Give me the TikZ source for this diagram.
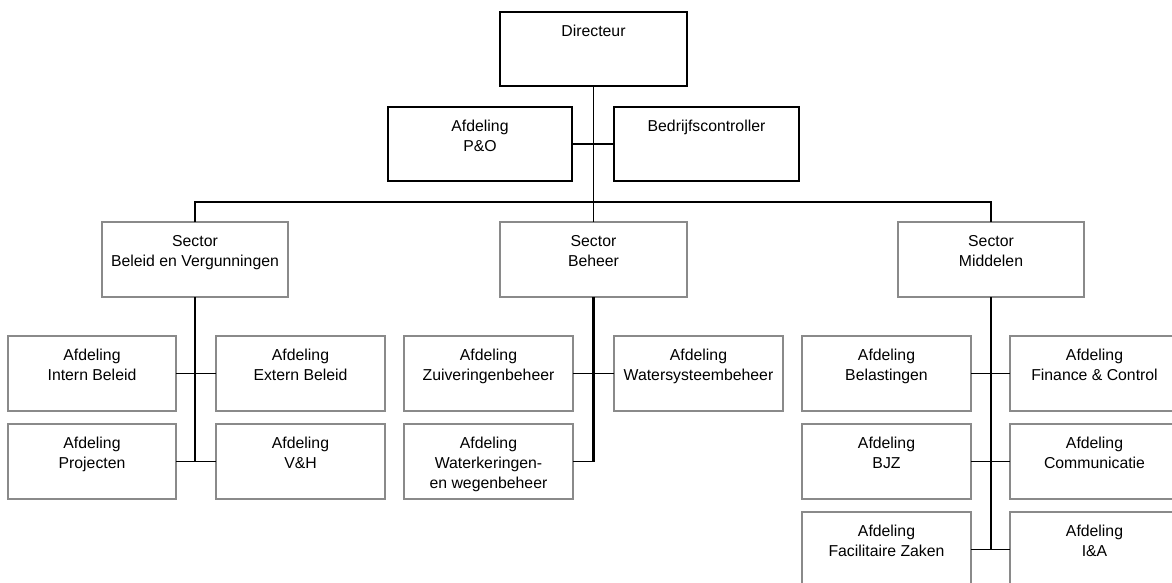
\documentclass[tikz,border=0pt]{standalone}
\usepackage{fontspec}
\setmainfont{Liberation Sans}
\definecolor{boxgray}{RGB}{138,138,138}
\begin{document}
\begin{tikzpicture}[x=1pt,y=-1pt,
  base/.style={rectangle, fill=white, line width=1.5pt, anchor=north west, inner sep=0pt, outer sep=0pt},
  topbox/.style={base, draw=black},
  orgbox/.style={base, draw=boxgray},
  sz/.style 2 args={minimum width=#1pt, minimum height=#2pt},
  txt/.style={font=\fontsize{15.8}{20}\selectfont, align=center, inner xsep=2pt, inner ysep=13pt, anchor=north},
  lbl/.style={label={[txt, anchor=north]north:{#1}}},
  conn/.style={draw=black, line width=1.8pt},
  trunk/.style={draw=black, line width=2.4pt}
]
\useasboundingbox (0,0) rectangle (1172,582);
\fill[white] (0,0) rectangle (1172,582);

% boxes
\node[topbox, sz={187}{74}, lbl={Directeur}] (dir) at (500,12) {};
\node[topbox, sz={184}{74}, lbl={Afdeling\\P\&O}] (po) at (388,107) {};
\node[topbox, sz={185}{74}, lbl={Bedrijfscontroller}] (bc) at (614,107) {};

\node[orgbox, sz={186}{75}, lbl={Sector\\Beleid en Vergunningen}] (sbv) at (102,222) {};
\node[orgbox, sz={187}{75}, lbl={Sector\\Beheer}] (sbh) at (500,222) {};
\node[orgbox, sz={186}{75}, lbl={Sector\\Middelen}] (smd) at (898,222) {};

\node[orgbox, sz={168}{75}, lbl={Afdeling\\Intern Beleid}] (ib) at (8,336) {};
\node[orgbox, sz={169}{75}, lbl={Afdeling\\Extern Beleid}] (eb) at (216,336) {};
\node[orgbox, sz={168}{75}, lbl={Afdeling\\Projecten}] (pj) at (8,424) {};
\node[orgbox, sz={169}{75}, lbl={Afdeling\\V\&H}] (vh) at (216,424) {};

\node[orgbox, sz={169}{75}, lbl={Afdeling\\Zuiveringenbeheer}] (zb) at (404,336) {};
\node[orgbox, sz={169}{75}, lbl={Afdeling\\Watersysteembeheer}] (wb) at (614,336) {};
\node[orgbox, sz={169}{75}, lbl={Afdeling\\Waterkeringen-\\en wegenbeheer}] (wk) at (404,424) {};

\node[orgbox, sz={169}{75}, lbl={Afdeling\\Belastingen}] (bl) at (802,336) {};
\node[orgbox, sz={169}{75}, lbl={Afdeling\\Finance \& Control}] (fc) at (1010,336) {};
\node[orgbox, sz={169}{75}, lbl={Afdeling\\BJZ}] (bjz) at (802,424) {};
\node[orgbox, sz={169}{75}, lbl={Afdeling\\Communicatie}] (com) at (1010,424) {};
\node[orgbox, sz={169}{75}, lbl={Afdeling\\Facilitaire Zaken}] (fz) at (802,512) {};
\node[orgbox, sz={169}{75}, lbl={Afdeling\\I\&A}] (ia) at (1010,512) {};

% connectors
\draw[conn] (dir.south) -- (sbh.north);
\draw[conn] (po.east) -- (bc.west);
\draw[conn] (sbv.north) -- ++(0,-20) -| (smd.north);

\draw[trunk] (sbv.south) -- (sbv.south |- pj.east);
\draw[conn] (ib.east) -- (eb.west);
\draw[conn] (pj.east) -- (vh.west);

\draw[trunk] (sbh.south) -- (sbh.south |- wk.east);
\draw[conn] (sbh.south |- wk.east) -- (wk.east);
\draw[conn] (zb.east) -- (wb.west);

\draw[trunk] (smd.south) -- (smd.south |- fz.east);
\draw[conn] (bl.east) -- (fc.west);
\draw[conn] (bjz.east) -- (com.west);
\draw[conn] (fz.east) -- (ia.west);
\end{tikzpicture}
\end{document}
